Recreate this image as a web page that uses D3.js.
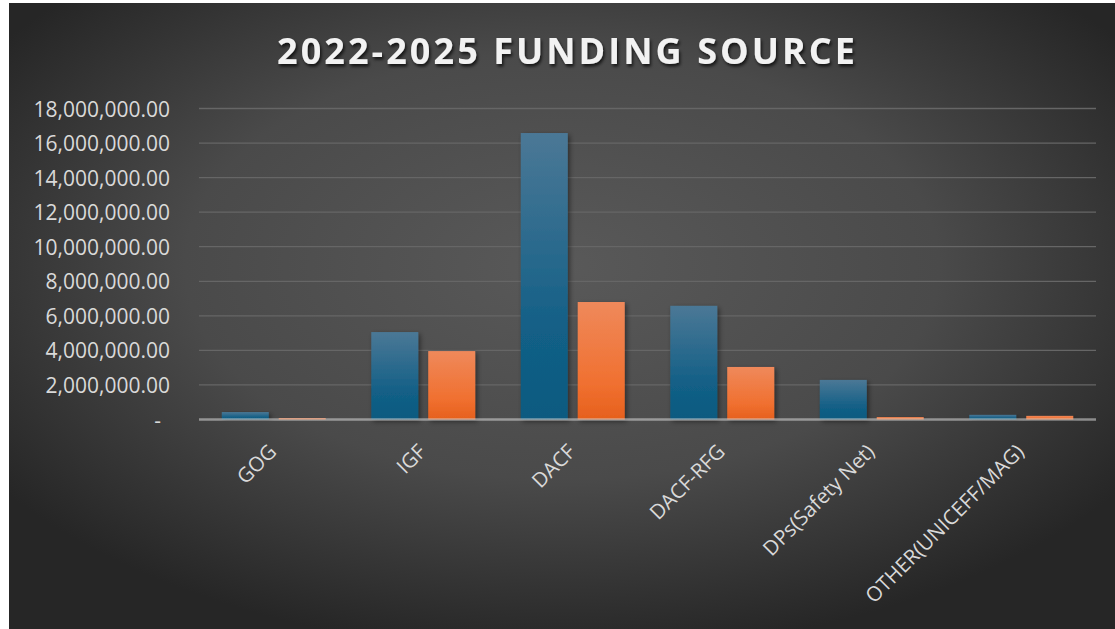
<!DOCTYPE html>
<html>
<head>
<meta charset="utf-8">
<script src="https://cdn.jsdelivr.net/npm/d3@7"></script>
<style>
  html, body { margin: 0; padding: 0; background: #ffffff; }
  svg { display: block; }
</style>
</head>
<body>
<svg id="chart" width="1115" height="629"></svg>
<script>
// Funding sources, two series per category
const categories = ["GOG", "IGF", "DACF", "DACF-RFG", "DPs(Safety Net)", "OTHER(UNICEFF/MAG)"];
const seriesOne = [430000, 5060000, 16580000, 6580000, 2290000, 270000];
const seriesTwo = [80000, 3960000, 6800000, 3040000, 140000, 210000];
const yTicks = [0, 2000000, 4000000, 6000000, 8000000, 10000000, 12000000, 14000000, 16000000, 18000000];
const titleText = "2022-2025 FUNDING SOURCE";

const svg = d3.select("#chart");
const defs = svg.append("defs");

// panel background: radial glow, lighter in the middle
const bg = defs.append("radialGradient").attr("id", "bgGrad")
  .attr("cx", "50%").attr("cy", "42%").attr("r", "62%");
bg.append("stop").attr("offset", "0%").attr("stop-color", "#595959");
bg.append("stop").attr("offset", "55%").attr("stop-color", "#4a4a4a");
bg.append("stop").attr("offset", "100%").attr("stop-color", "#262626");

const gBlue = defs.append("linearGradient").attr("id", "gBlue")
  .attr("x1", 0).attr("y1", 0).attr("x2", 0).attr("y2", 1);
gBlue.append("stop").attr("offset", "0%").attr("stop-color", "#4b7896");
gBlue.append("stop").attr("offset", "70%").attr("stop-color", "#125f86");
gBlue.append("stop").attr("offset", "100%").attr("stop-color", "#0d5a80");

const gOrange = defs.append("linearGradient").attr("id", "gOrange")
  .attr("x1", 0).attr("y1", 0).attr("x2", 0).attr("y2", 1);
gOrange.append("stop").attr("offset", "0%").attr("stop-color", "#ef895b");
gOrange.append("stop").attr("offset", "70%").attr("stop-color", "#f07030");
gOrange.append("stop").attr("offset", "100%").attr("stop-color", "#e6601d");

const shadow = defs.append("filter").attr("id", "barShadow")
  .attr("x", "-30%").attr("y", "-10%").attr("width", "160%").attr("height", "130%");
shadow.append("feDropShadow").attr("dx", 2).attr("dy", 2).attr("stdDeviation", 2.5)
  .attr("flood-color", "#000").attr("flood-opacity", 0.45);

const tShadow = defs.append("filter").attr("id", "titleShadow")
  .attr("x", "-10%").attr("y", "-30%").attr("width", "120%").attr("height", "160%");
tShadow.append("feDropShadow").attr("dx", 1.5).attr("dy", 2.5).attr("stdDeviation", 1.5)
  .attr("flood-color", "#000").attr("flood-opacity", 0.7);

svg.append("rect").attr("x", 9).attr("y", 3).attr("width", 1106).attr("height", 626)
  .attr("fill", "url(#bgGrad)");

// scales
const plotLeft = 199, plotRight = 1096, plotTop = 108.5, plotBottom = 419.5;
const x = d3.scaleBand().domain(categories).range([plotLeft, plotRight]).padding(0);
const xSeries = d3.scaleBand().domain([0, 1]).range([0, x.bandwidth()])
  .paddingInner(0.175).paddingOuter(0.4);
const y = d3.scaleLinear().domain([0, 18000000]).range([plotBottom, plotTop]);

// gridlines
svg.append("g").selectAll("line").data(yTicks.filter(d => d > 0)).join("line")
  .attr("x1", plotLeft).attr("x2", plotRight)
  .attr("y1", d => y(d)).attr("y2", d => y(d))
  .attr("stroke", "#666666").attr("stroke-width", 1.3);

// y axis labels
const fmt = d3.format(",.2f");
const yAxis = svg.append("g").attr("transform", `translate(${plotLeft},0)`)
  .call(d3.axisLeft(y).tickValues(yTicks).tickSize(0).tickPadding(29)
    .tickFormat(d => d === 0 ? "-" : fmt(d)));
yAxis.select(".domain").remove();
yAxis.selectAll("text")
  .attr("fill", "#d9d9d9")
  .style("font-family", "'Open Sans', sans-serif")
  .style("font-size", "21px")
  .attr("dy", "0.36em");
yAxis.selectAll(".tick").filter(d => d === 0).select("text").attr("dx", -9);

// bars
const rows = categories.map((c, i) => ({ c, vals: [seriesOne[i], seriesTwo[i]] }));
const fills = ["url(#gBlue)", "url(#gOrange)"];
svg.append("g").selectAll("g").data(rows).join("g")
  .attr("transform", d => `translate(${x(d.c)},0)`)
  .selectAll("rect").data(d => d.vals.map((v, k) => ({ v, k }))).join("rect")
  .attr("x", d => xSeries(d.k))
  .attr("width", xSeries.bandwidth())
  .attr("y", d => y(d.v))
  .attr("height", d => y(0) - y(d.v))
  .attr("fill", d => fills[d.k])
  .attr("filter", "url(#barShadow)");

// category axis line
svg.append("line")
  .attr("x1", plotLeft).attr("x2", plotRight)
  .attr("y1", y(0)).attr("y2", y(0))
  .attr("stroke", "#d9d9d9").attr("stroke-opacity", 0.55).attr("stroke-width", 2.5);

// category labels, rotated
svg.append("g").selectAll("text").data(categories).join("text")
  .attr("transform", d => `translate(${x(d) + x.bandwidth() / 2 + 4},453) rotate(-45)`)
  .attr("text-anchor", "end")
  .attr("fill", "#d9d9d9")
  .style("font-family", "'Open Sans', sans-serif")
  .style("font-size", "20.5px")
  .text(d => d);

// title
svg.append("text")
  .attr("x", 566).attr("y", 64)
  .attr("text-anchor", "middle")
  .attr("textLength", 578).attr("lengthAdjust", "spacing")
  .attr("fill", "#f2f2f2")
  .attr("filter", "url(#titleShadow)")
  .style("font-family", "'Open Sans', sans-serif")
  .style("font-weight", "700")
  .style("font-size", "36px")
  .text(titleText);
</script>
</body>
</html>
